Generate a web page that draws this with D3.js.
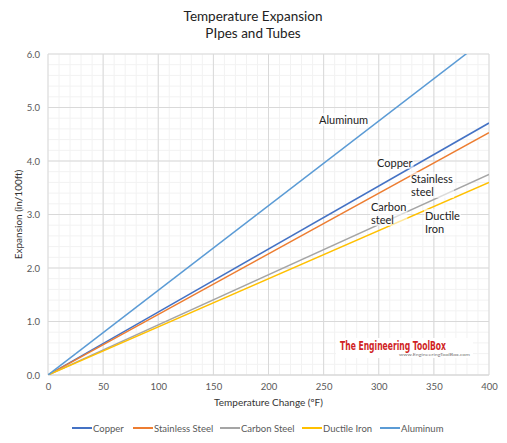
<!DOCTYPE html>
<html>
<head>
<meta charset="utf-8">
<script src="https://cdn.jsdelivr.net/npm/d3@7"></script>
<style>
  body { margin: 0; background: #fff; }
  text { font-family: Lato, "Open Sans", sans-serif; }
</style>
</head>
<body>
<script>
// data
var temps = [0, 400];
var copper = [0, 4.71];
var stainless = [0, 4.53];
var carbon = [0, 3.75];
var ductile = [0, 3.6];
var aluminum = [0, 6.33];
var seriesNames = ["Copper", "Stainless Steel", "Carbon Steel", "Ductile Iron", "Aluminum"];
var seriesColors = ["#4472C4", "#ED7D31", "#A5A5A5", "#FFC000", "#5B9BD5"];
var xTicks = [0, 50, 100, 150, 200, 250, 300, 350, 400];
var yTicks = [0, 1, 2, 3, 4, 5, 6];

var width = 507, height = 443;
// plot box (window.top is reserved, so prefixed names)
var pLeft = 48, pRight = 489, pTop = 54, pBottom = 375;

var svg = d3.select("body").append("svg")
    .attr("width", width)
    .attr("height", height);

var x = d3.scaleLinear().domain([0, 400]).range([pLeft, pRight]);
var y = d3.scaleLinear().domain([0, 6]).range([pBottom, pTop]);

// minor grid
svg.append("g").selectAll("line")
    .data(d3.range(0, 401, 10))
    .enter().append("line")
    .attr("x1", d => x(d)).attr("x2", d => x(d))
    .attr("y1", pTop).attr("y2", pBottom)
    .attr("stroke", "#F2F2F2");
svg.append("g").selectAll("line")
    .data(d3.range(0, 6.01, 0.2))
    .enter().append("line")
    .attr("x1", pLeft).attr("x2", pRight)
    .attr("y1", d => y(d)).attr("y2", d => y(d))
    .attr("stroke", "#F2F2F2");
// major grid
svg.append("g").selectAll("line")
    .data(xTicks)
    .enter().append("line")
    .attr("x1", d => x(d)).attr("x2", d => x(d))
    .attr("y1", pTop).attr("y2", pBottom)
    .attr("stroke", "#D9D9D9");
svg.append("g").selectAll("line")
    .data(yTicks)
    .enter().append("line")
    .attr("x1", pLeft).attr("x2", pRight)
    .attr("y1", d => y(d)).attr("y2", d => y(d))
    .attr("stroke", "#D9D9D9");

// axes
var xAxis = svg.append("g")
    .attr("transform", "translate(0," + pBottom + ")")
    .call(d3.axisBottom(x).tickValues(xTicks).tickSize(0).tickPadding(8));
var yAxis = svg.append("g")
    .attr("transform", "translate(" + pLeft + ",0)")
    .call(d3.axisLeft(y).tickValues(yTicks).tickSize(0).tickPadding(8).tickFormat(d3.format(".1f")));
[xAxis, yAxis].forEach(function(a) {
    a.select(".domain").remove();
    a.selectAll("text").attr("fill", "#595959").style("font-size", "9.5px").style("font-family", "Lato, sans-serif");
});
svg.append("line")
    .attr("x1", pLeft).attr("x2", pRight)
    .attr("y1", pBottom).attr("y2", pBottom)
    .attr("stroke", "#D9D9D9");

// logo
var logo = svg.append("g");
logo.append("rect")
    .attr("x", 336).attr("y", 338).attr("width", 137).attr("height", 20)
    .attr("fill", "#fff");
logo.append("text")
    .attr("x", 340).attr("y", 350)
    .attr("textLength", 106)
    .attr("lengthAdjust", "spacingAndGlyphs")
    .attr("fill", "#D01F25")
    .style("font-family", "'DejaVu Sans Condensed', 'DejaVu Sans', sans-serif")
    .style("font-weight", "bold")
    .style("font-size", "11.5px")
    .text("The Engineering ToolBox");
logo.append("text")
    .attr("x", 399).attr("y", 355.5)
    .attr("textLength", 71)
    .attr("lengthAdjust", "spacingAndGlyphs")
    .attr("fill", "#777")
    .style("font-size", "3.5px")
    .text("www.EngineeringToolBox.com");

// lines
var allSeries = [copper, stainless, carbon, ductile, aluminum];
svg.append("clipPath").attr("id", "plot")
    .append("rect")
    .attr("x", pLeft).attr("y", pTop)
    .attr("width", pRight - pLeft).attr("height", pBottom - pTop);

var line = d3.line()
    .x((d, i) => x(temps[i]))
    .y(d => y(d));

svg.append("g").attr("clip-path", "url(#plot)")
    .selectAll("path")
    .data(allSeries)
    .enter().append("path")
    .attr("d", d => line(d))
    .attr("fill", "none")
    .attr("stroke", (d, i) => seriesColors[i])
    .attr("stroke-width", 1.5);

// in-plot labels
var labels = [
    { lines: ["Aluminum"], x: 319, y: 124 },
    { lines: ["Copper"], x: 377, y: 167 },
    { lines: ["Stainless", "steel"], x: 411, y: 183 },
    { lines: ["Carbon", "steel"], x: 371, y: 211 },
    { lines: ["Ductile", "Iron"], x: 425, y: 220 }
];
labels.forEach(function(l) {
    var g = svg.append("g");
    var t = g.append("text")
        .attr("fill", "#222")
        .style("font-size", "11px");
    l.lines.forEach(function(s, i) {
        t.append("tspan").attr("x", l.x).attr("y", l.y + i * 13).text(s);
    });
    var b = t.node().getBBox();
    g.insert("rect", "text")
        .attr("x", b.x - 1).attr("y", b.y)
        .attr("width", b.width + 2).attr("height", b.height)
        .attr("fill", "#fff").attr("opacity", 0.6);
});

// titles
svg.append("text")
    .attr("x", 253).attr("y", 21)
    .attr("text-anchor", "middle")
    .attr("fill", "#222")
    .style("font-size", "13.5px")
    .text("Temperature Expansion");
svg.append("text")
    .attr("x", 253).attr("y", 38)
    .attr("text-anchor", "middle")
    .attr("fill", "#222")
    .style("font-size", "13.5px")
    .text("PIpes and Tubes");

svg.append("text")
    .attr("x", (pLeft + pRight) / 2).attr("y", 406)
    .attr("text-anchor", "middle")
    .attr("fill", "#333")
    .style("font-size", "10px")
    .text("Temperature Change (ºF)");
svg.append("text")
    .attr("transform", "translate(22," + ((pTop + pBottom) / 2) + ") rotate(-90)")
    .attr("text-anchor", "middle")
    .attr("fill", "#333")
    .style("font-size", "10px")
    .text("Expansion (in/100ft)");

// legend
var legendX = [72, 133, 220, 302, 380];
var legend = svg.append("g").selectAll("g")
    .data(seriesNames)
    .enter().append("g")
    .attr("transform", (d, i) => "translate(" + legendX[i] + ",428)");
legend.append("line")
    .attr("x1", 0).attr("x2", 20)
    .attr("stroke", (d, i) => seriesColors[i])
    .attr("stroke-width", 2);
legend.append("text")
    .attr("x", 21).attr("y", 3.5)
    .attr("fill", "#595959")
    .style("font-size", "9.5px")
    .text(d => d);
</script>
</body>
</html>
